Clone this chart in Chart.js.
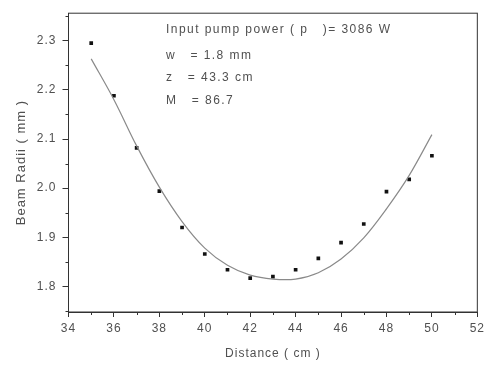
<!DOCTYPE html>
<html>
<head>
<meta charset="utf-8">
<script src="https://cdn.jsdelivr.net/npm/chart.js@4/dist/chart.umd.min.js"></script>
<style>
  html, body { margin: 0; padding: 0; background: #fff; }
  #wrap { width: 488px; height: 365px; }
</style>
</head>
<body>
<div id="wrap"><canvas id="beamChart"></canvas></div>
<script>
// mesures (points carrés)
const distances = [35, 36, 37, 38, 39, 40, 41, 42, 43, 44, 45, 46, 47, 48, 49, 50];
const radii = [2.295, 2.188, 2.082, 1.994, 1.920, 1.866, 1.834, 1.817, 1.820, 1.834, 1.857, 1.889, 1.927, 1.993, 2.018, 2.066];

// courbe ajustée
const fitDistances = [35, 36, 37, 38, 39, 40, 41, 42, 43, 44, 45, 46, 47, 48, 49, 50];
const fitRadii = [2.263, 2.180, 2.086, 2.002, 1.932, 1.878, 1.843, 1.823, 1.815, 1.815, 1.828, 1.856, 1.899, 1.958, 2.026, 2.109];

const xTicks = [34, 36, 38, 40, 42, 44, 46, 48, 50, 52];
const yTicks = [1.8, 1.9, 2.0, 2.1, 2.2, 2.3];

const annotationLines = [
    'Input pump power ( p   )= 3086 W',
    'w   = 1.8 mm',
    'z   = 43.3 cm',
    'M   = 86.7'
];

const textColor = '#505050';
const axisColor = '#333';

const framePlugin = {
    id: 'frame',
    beforeDraw(chart) {
        chart.ctx.letterSpacing = '1px';
    },
    afterDraw(chart) {
        const { ctx, chartArea: a, scales } = chart;
        ctx.save();
        ctx.strokeStyle = axisColor;
        ctx.lineWidth = 1;
        ctx.strokeRect(a.left, a.top, a.right - a.left, a.bottom - a.top);

        // petites graduations
        ctx.beginPath();
        for (let v = 35; v < 52; v += 2) {
            const px = Math.round(scales.x.getPixelForValue(v)) + 0.5;
            ctx.moveTo(px, a.bottom);
            ctx.lineTo(px, a.bottom + 3);
        }
        for (let v = 1.75; v < 2.36; v += 0.1) {
            const py = Math.round(scales.y.getPixelForValue(v)) + 0.5;
            ctx.moveTo(a.left, py);
            ctx.lineTo(a.left - 3, py);
        }
        ctx.stroke();

        // texte
        ctx.fillStyle = textColor;
        ctx.font = '12px "Liberation Sans", Arial, sans-serif';
        ctx.letterSpacing = '1.45px';
        ctx.textBaseline = 'middle';
        const ys = [30, 56, 78, 101];
        annotationLines.forEach((t, i) => ctx.fillText(t, 166, ys[i]));
        ctx.restore();
    }
};

const ctx = document.getElementById('beamChart');
new Chart(ctx, {
    type: 'scatter',
    data: {
        datasets: [{
            label: 'fit',
            type: 'line',
            data: fitDistances.map((d, i) => ({ x: d, y: fitRadii[i] })),
            borderColor: '#8a8a8a',
            borderWidth: 1.2,
            pointRadius: 0,
            tension: 0.35,
            fill: false
        }, {
            label: 'mesures',
            data: distances.map((d, i) => ({ x: d, y: radii[i] })),
            pointStyle: 'rect',
            pointRadius: 2.6,
            backgroundColor: '#111',
            borderColor: '#111',
            borderWidth: 0
        }]
    },
    options: {
        responsive: true,
        maintainAspectRatio: false,
        animation: false,
        layout: { padding: { top: 7, right: 7, left: 0, bottom: 0 } },
        plugins: {
            legend: { display: false },
            tooltip: { enabled: false }
        },
        scales: {
            x: {
                type: 'linear',
                min: 34,
                max: 52,
                afterBuildTicks: s => { s.ticks = xTicks.map(v => ({ value: v })); },
                afterFit: s => { s.height = 53; },
                grid: { drawOnChartArea: false, tickLength: 5, color: axisColor },
                border: { color: axisColor },
                ticks: {
                    color: textColor,
                    font: { family: '"Liberation Sans", Arial', size: 12 },
                    padding: 4,
                    maxRotation: 0
                },
                title: {
                    display: true,
                    text: 'Distance ( cm )',
                    color: textColor,
                    font: { family: '"Liberation Sans", Arial', size: 12 },
                    padding: { top: 8 }
                }
            },
            y: {
                min: 1.748,
                max: 2.356,
                afterBuildTicks: s => { s.ticks = yTicks.map(v => ({ value: v })); },
                afterFit: s => { s.width = 68.5; },
                grid: { drawOnChartArea: false, tickLength: 6, color: axisColor },
                border: { color: axisColor },
                ticks: {
                    color: textColor,
                    font: { family: '"Liberation Sans", Arial', size: 12 },
                    padding: 6,
                    callback: v => v.toFixed(1)
                },
                title: {
                    display: true,
                    text: 'Beam Radii ( mm )',
                    color: textColor,
                    font: { family: '"Liberation Sans", Arial', size: 13 },
                    padding: { top: 14, bottom: 0 }
                }
            }
        }
    },
    plugins: [framePlugin]
});
</script>
</body>
</html>
